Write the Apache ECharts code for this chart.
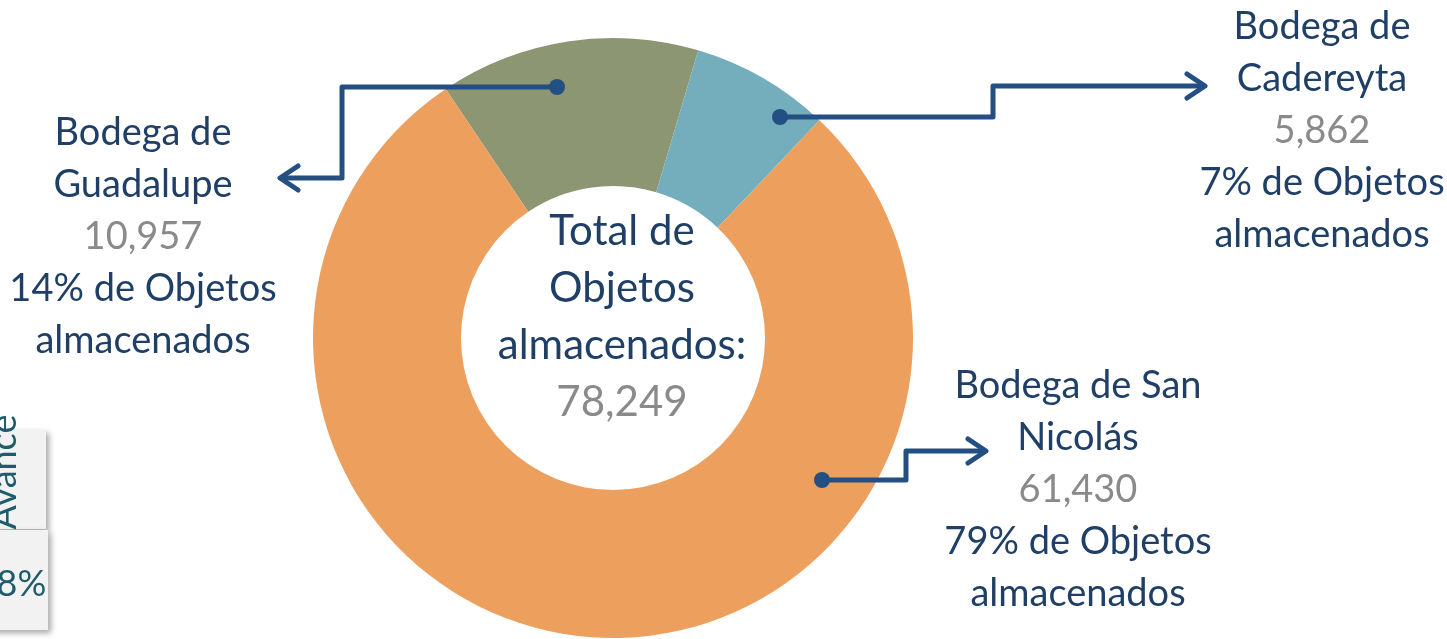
<!DOCTYPE html>
<html>
<head>
<meta charset="utf-8">
<script src="https://cdn.jsdelivr.net/npm/echarts@6/dist/echarts.min.js"></script>
<style>
  html, body { margin: 0; padding: 0; background: #fff; }
  #chart { width: 1447px; height: 639px; }
</style>
</head>
<body>
<div id="chart"></div>
<script>
// data
const bodegas = ['Bodega de\nGuadalupe', 'Bodega de\nCadereyta', 'Bodega de San\nNicolás'];
const objetos = [10957, 5862, 61430];
const colores = ['#8C9673', '#74AEBD', '#EDA05E'];

const FONT = 'Lato, Carlito, "Open Sans", sans-serif';
const NAVY = '#1F3F66';
const GRIS = '#8A8A8A';
const FLECHA = '#234F82';

const total = objetos.reduce((a, b) => a + b, 0);
const fmt = v => v.toLocaleString('en-US');
const pct = v => Math.round(v / total * 100) + '%';

// where each callout text sits and how its arrow runs
const callouts = [
    {x: 143, y: 237, path: [[557, 87], [342, 87], [342, 178], [282, 178]], dir: -1},
    {x: 1322, y: 131, path: [[780, 117], [993, 117], [993, 86], [1203, 86]], dir: 1},
    {x: 1078, y: 490, path: [[822, 480], [906, 480], [906, 451], [984, 451]], dir: 1}
];

function labelText(i) {
    const lines = bodegas[i].split('\n').map(s => '{n|' + s + '}');
    lines.push('{v|' + fmt(objetos[i]) + '}');
    lines.push('{n|' + pct(objetos[i]) + ' de Objetos}');
    lines.push('{n|almacenados}');
    return lines.join('\n');
}

const graphics = [];

// partial box on the left edge
graphics.push({
    type: 'rect', z: 100, shape: {x: -10, y: 430, width: 56, height: 99},
    style: {fill: '#F2F2F2', shadowBlur: 6, shadowOffsetX: 3, shadowOffsetY: 3, shadowColor: 'rgba(0,0,0,0.35)'}
});
graphics.push({
    type: 'rect', z: 100, shape: {x: -10, y: 530, width: 58, height: 100},
    style: {fill: '#F2F2F2', shadowBlur: 6, shadowOffsetX: 3, shadowOffsetY: 3, shadowColor: 'rgba(0,0,0,0.35)'}
});
graphics.push({
    type: 'text', z: 101, x: 4, y: 472, rotation: Math.PI / 2,
    style: {text: 'Avance', font: '36px ' + FONT, fill: '#1F5C6B', textAlign: 'center', textVerticalAlign: 'middle'}
});
graphics.push({
    type: 'text', z: 101, x: 11, y: 584,
    style: {text: '98%', font: '36px ' + FONT, fill: '#1F5C6B', textAlign: 'center', textVerticalAlign: 'middle'}
});

callouts.forEach((c, i) => {
    const p = c.path;
    const end = p[p.length - 1];
    graphics.push({
        type: 'polyline', z: 100, shape: {points: p},
        style: {stroke: FLECHA, lineWidth: 5, fill: null, lineJoin: 'round'}
    });
    graphics.push({
        type: 'polyline', z: 100,
        shape: {points: [[end[0] - c.dir * 16, end[1] - 12], [end[0] + c.dir * 2, end[1]], [end[0] - c.dir * 16, end[1] + 12]]},
        style: {stroke: FLECHA, lineWidth: 5, fill: null, lineCap: 'round', lineJoin: 'round'}
    });
    graphics.push({
        type: 'circle', z: 101, shape: {cx: p[0][0], cy: p[0][1], r: 8},
        style: {fill: FLECHA}
    });
    graphics.push({
        type: 'text', z: 100, x: c.x, y: c.y,
        style: {
            text: labelText(i),
            textAlign: 'center', textVerticalAlign: 'middle',
            font: '38px ' + FONT,
            rich: {
                n: {fill: NAVY, color: NAVY, fontSize: 38, fontFamily: FONT, lineHeight: 52},
                v: {fill: GRIS, color: GRIS, fontSize: 38, fontFamily: FONT, lineHeight: 52}
            }
        }
    });
});

// total in the middle of the donut
graphics.push({
    type: 'text', z: 100, x: 622, y: 317,
    style: {
        text: '{n|Total de}\n{n|Objetos}\n{n|almacenados:}\n{v|' + fmt(total) + '}',
        textAlign: 'center', textVerticalAlign: 'middle',
        font: '42px ' + FONT,
        rich: {
            n: {fill: NAVY, color: NAVY, fontSize: 42, fontFamily: FONT, lineHeight: 57},
            v: {fill: GRIS, color: GRIS, fontSize: 42, fontFamily: FONT, lineHeight: 57}
        }
    }
});

const chart = echarts.init(document.getElementById('chart'));
chart.setOption({
    animation: false,
    series: [{
        type: 'pie',
        center: [613, 338],
        radius: [152, 300],
        startAngle: 123.9,
        clockwise: true,
        label: {show: false},
        labelLine: {show: false},
        emphasis: {disabled: true},
        data: objetos.map((v, i) => ({
            value: v,
            name: bodegas[i],
            itemStyle: {color: colores[i]}
        }))
    }],
    graphic: graphics
});
</script>
</body>
</html>
